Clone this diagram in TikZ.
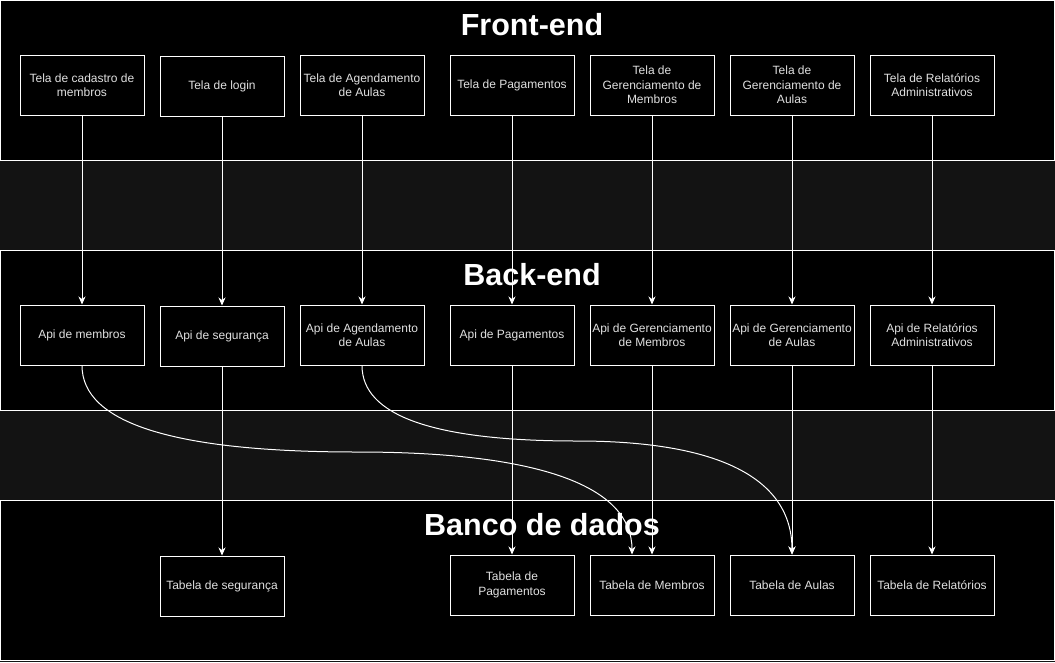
\documentclass[tikz,border=0pt]{standalone}
\usepackage{fontspec}
\setmainfont{Liberation Sans}
\usepackage{tikz}
\usetikzlibrary{arrows.meta}
\definecolor{bgdark}{HTML}{131313}
\definecolor{txtgray}{HTML}{E0E0E0}

\begin{document}
\begin{tikzpicture}[x=1pt,y=-1pt,
  layer/.style={draw=white,line width=1pt,fill=black},
  box/.style={draw=white,line width=1pt,fill=black,minimum width=124pt,minimum height=60pt,
    inner sep=1pt,align=center,text=txtgray,font=\fontsize{12}{14.5}\selectfont},
  title/.style={text=white,font=\bfseries\fontsize{30.5}{36}\selectfont},
  link/.style={draw=white,line width=1pt,-{Stealth[length=8pt,width=7pt,inset=2.5pt]}}]

\fill[bgdark] (0,0) rectangle (1055,662);

% layers
\draw[layer] (0.5,0.5) rectangle (1054.5,160.5);
\draw[layer] (0.5,250.5) rectangle (1054.5,410.5);
\draw[layer] (0.5,500.5) rectangle (1054.5,660.5);

\node[title] (front) at (532,25) {Front-end};
\node[title] (back) at (532,275) {Back-end};
\node[title] (banco) at (542,525) {Banco de dados};

% telas
\node[box] (tcad) at (82,85) {Tela de cadastro de\\membros};
\node[box] (tlog) at (222,86) {Tela de login};
\node[box] (tage) at (362,85) {Tela de Agendamento\\de Aulas};
\node[box] (tpag) at (512,85) {Tela de Pagamentos};
\node[box] (tgm) at (652,85) {Tela de\\Gerenciamento de\\Membros};
\node[box] (tga) at (792,85) {Tela de\\Gerenciamento de\\Aulas};
\node[box] (trel) at (932,85) {Tela de Relatórios\\Administrativos};

% apis
\node[box] (amem) at (82,335) {Api de membros};
\node[box] (aseg) at (222,336) {Api de segurança};
\node[box] (aage) at (362,335) {Api de Agendamento\\de Aulas};
\node[box] (apag) at (512,335) {Api de Pagamentos};
\node[box] (agm) at (652,335) {Api de Gerenciamento\\de Membros};
\node[box] (aga) at (792,335) {Api de Gerenciamento\\de Aulas};
\node[box] (arel) at (932,335) {Api de Relatórios\\Administrativos};

% tabelas
\node[box] (bseg) at (222,586) {Tabela de segurança};
\node[box] (bpag) at (512,585) {Tabela de\\Pagamentos};
\node[box] (bmem) at (652,585) {Tabela de Membros};
\node[box] (baul) at (792,585) {Tabela de Aulas};
\node[box] (brel) at (932,585) {Tabela de Relatórios};

\coordinate (bmemin) at ([xshift=-20pt]bmem.north);

\draw[link] (tcad) -- (amem);
\draw[link] (tlog) -- (aseg);
\draw[link] (tage) -- (aage);
\draw[link] (tpag) -- (apag);
\draw[link] (tgm) -- (agm);
\draw[link] (tga) -- (aga);
\draw[link] (trel) -- (arel);

\draw[link] (aseg) -- (bseg);
\draw[link] (apag) -- (bpag);
\draw[link] (agm) -- (bmem);
\draw[link] (aga) -- (baul);
\draw[link] (arel) -- (brel);

\draw[link] (amem.south) .. controls (82,423) and (173.7,452) .. (357,452)
  .. controls (540.3,452) and (632,486.3) .. (bmemin);
\draw[link] (aage.south) .. controls (362,415.7) and (433.7,441) .. (577,441)
  .. controls (720.3,441) and (792,479) .. (baul.north);

\end{tikzpicture}
\end{document}
